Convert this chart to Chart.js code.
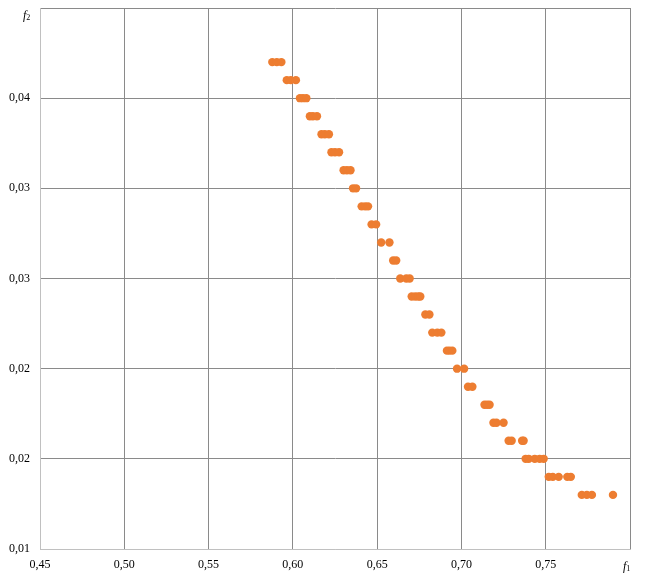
<!DOCTYPE html>
<html>
<head>
<meta charset="utf-8">
<script src="https://cdn.jsdelivr.net/npm/chart.js"></script>
<style>
  body { margin: 0; background: #fff; }
  canvas { display: block; }
</style>
</head>
<body>
<canvas id="chart" width="662" height="588"></canvas>
<script>
// f2 level for each group of points, and the f1 values at that level
const f2Levels = [0.037, 0.036, 0.035, 0.034, 0.033, 0.032, 0.031, 0.030, 0.029, 0.028, 0.027, 0.026, 0.025,
                  0.024, 0.023, 0.022, 0.021, 0.020, 0.019, 0.018, 0.017, 0.016, 0.015, 0.014, 0.013];
const f1Groups = [
  [0.5878, 0.5905, 0.5932],
  [0.5964, 0.5988, 0.6018],
  [0.6042, 0.6060, 0.6080],
  [0.6101, 0.6119, 0.6143],
  [0.6170, 0.6190, 0.6214],
  [0.6229, 0.6250, 0.6274],
  [0.6301, 0.6321, 0.6342],
  [0.6357, 0.6375],
  [0.6408, 0.6429, 0.6446],
  [0.6467, 0.6494],
  [0.6524, 0.6573],
  [0.6595, 0.6613],
  [0.6637, 0.6673, 0.6693],
  [0.6705, 0.6726, 0.6744, 0.6756],
  [0.6786, 0.6810],
  [0.6827, 0.6857, 0.6881],
  [0.6914, 0.6929, 0.6946],
  [0.6974, 0.7016],
  [0.7039, 0.7065],
  [0.7137, 0.7152, 0.7167],
  [0.7190, 0.7208, 0.7250],
  [0.7280, 0.7298, 0.7360, 0.7369],
  [0.7381, 0.7399, 0.7435, 0.7464, 0.7488],
  [0.7518, 0.7542, 0.7577, 0.7628, 0.7649],
  [0.7714, 0.7744, 0.7774, 0.7899]
];

const xTickLabels = ['0,45', '0,50', '0,55', '0,60', '0,65', '0,70', '0,75', ''];
const yTickLabels = ['0,01', '0,02', '0,02', '0,03', '0,03', '0,04', ''];

const points = [];
f1Groups.forEach((group, i) => {
  group.forEach(x => points.push({ x: x, y: f2Levels[i] }));
});

const FONT = "'Liberation Serif', 'Times New Roman', serif";

// axis names f1 / f2 in italic with a small subscript
const axisNames = {
  id: 'axisNames',
  afterDraw(chart) {
    const ctx = chart.ctx;
    const draw = (x, y, sub) => {
      ctx.save();
      ctx.fillStyle = '#000';
      ctx.textBaseline = 'alphabetic';
      ctx.font = 'italic 12px ' + FONT;
      ctx.fillText('f', x, y);
      const w = ctx.measureText('f').width;
      ctx.font = '8px ' + FONT;
      ctx.fillText(sub, x + w, y + 1);
      ctx.restore();
    };
    draw(23, 19, '2');
    draw(623, 570, '1');
  }
};

new Chart(document.getElementById('chart').getContext('2d'), {
  type: 'scatter',
  data: {
    datasets: [{
      data: points,
      backgroundColor: '#ED7D31',
      borderColor: '#ED7D31',
      pointRadius: 4.2,
      pointHoverRadius: 4.2,
      borderWidth: 0
    }]
  },
  options: {
    responsive: false,
    animation: false,
    layout: { padding: { top: 8, right: 32, left: 0, bottom: 0 } },
    plugins: { legend: { display: false }, tooltip: { enabled: false } },
    scales: {
      x: {
        type: 'linear',
        min: 0.45,
        max: 0.80,
        afterFit: s => { s.height = 39; s.paddingLeft = 0; s.paddingRight = 0; },
        ticks: {
          stepSize: 0.05,
          padding: 9,
          color: '#000',
          font: { family: FONT, size: 12 },
          maxRotation: 0,
          callback: (v, i) => xTickLabels[i]
        },
        grid: {
          drawTicks: false,
          color: ctx => ctx.index === 0 ? '#c0c0c0' : '#8a8a8a'
        },
        border: { color: '#c0c0c0' }
      },
      y: {
        min: 0.01,
        max: 0.04,
        afterFit: s => { s.width = 40; s.paddingTop = 0; s.paddingBottom = 0; },
        ticks: {
          stepSize: 0.005,
          padding: 10,
          color: '#000',
          font: { family: FONT, size: 12 },
          callback: (v, i) => yTickLabels[i]
        },
        grid: {
          drawTicks: false,
          color: ctx => ctx.index === 0 ? '#c0c0c0' : '#8a8a8a'
        },
        border: { color: '#c0c0c0' }
      }
    }
  },
  plugins: [axisNames]
});
</script>
</body>
</html>
